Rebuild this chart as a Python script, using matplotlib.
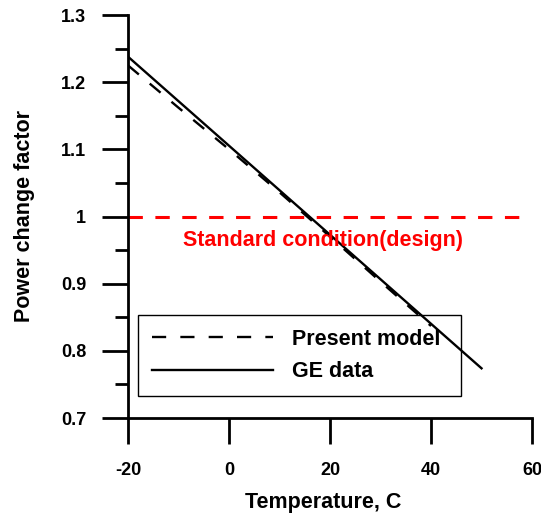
import matplotlib.pyplot as plt
from matplotlib.ticker import MultipleLocator, FuncFormatter

# data
temp_ge = [-20, 50]
power_ge = [1.238, 0.774]

temp_model = [-20, -10, 0, 10, 20, 30, 40]
power_model = [1.225, 1.162, 1.100, 1.036, 0.970, 0.903, 0.837]

design_level = 1.0
design_label = "Standard condition(design)"

xticks = [-20, 0, 20, 40, 60]
yticks = [0.7, 0.8, 0.9, 1.0, 1.1, 1.2, 1.3]

plt.rcParams['font.family'] = ['Liberation Sans', 'DejaVu Sans']
plt.rcParams['font.weight'] = 'bold'
plt.rcParams['axes.unicode_minus'] = False

fig = plt.figure(figsize=(5.41, 5.16), dpi=100)
ax = fig.add_axes([0.2366, 0.1899, 0.7468, 0.781])

ax.plot(temp_model, power_model, color='black', lw=1.7, ls=(0, (6, 6)),
        label='Present model', zorder=3)
ax.plot(temp_ge, power_ge, color='black', lw=1.7, label='GE data', zorder=3)
ax.hlines(design_level, -20, 58.2, colors='red', lw=2.2, linestyles=[(0, (4.7, 4.1))])
ax.text(18.6, 0.964, design_label, color='red', fontsize=15.5, fontweight='bold',
        ha='center', va='center')

ax.set_xlim(-20, 60)
ax.set_ylim(0.7, 1.3)
ax.set_xticks(xticks)
ax.set_yticks(yticks)
ax.yaxis.set_minor_locator(MultipleLocator(0.05))
ax.yaxis.set_major_formatter(FuncFormatter(lambda v, p: '%g' % round(v, 2)))

for s in ['top', 'right']:
    ax.spines[s].set_visible(False)
for s in ['left', 'bottom']:
    ax.spines[s].set_linewidth(2)

ax.tick_params(which='major', direction='out', length=19, width=2, labelsize=13)
ax.tick_params(which='minor', direction='out', length=9.5, width=2)
ax.tick_params(axis='y', pad=11)
ax.tick_params(axis='x', pad=13)

ax.set_xlabel('Temperature, C', fontsize=15.5, fontweight='bold')
ax.set_ylabel('Power change factor', fontsize=15.5, fontweight='bold')
ax.xaxis.set_label_coords(0.484, -0.183)
ax.yaxis.set_label_coords(-0.23, 0.5025)

leg = ax.legend(loc='upper left', bbox_to_anchor=(0.0248, 0.0546, 0.7995, 0.201),
                mode='expand', borderaxespad=0,
                fontsize=15.5, handlelength=5.6, handletextpad=0.9, labelspacing=0.53,
                borderpad=0.65, fancybox=False, framealpha=1, edgecolor='black')
leg.get_frame().set_linewidth(1)
leg.set_zorder(1)

fig.savefig('out.png', dpi=100)
